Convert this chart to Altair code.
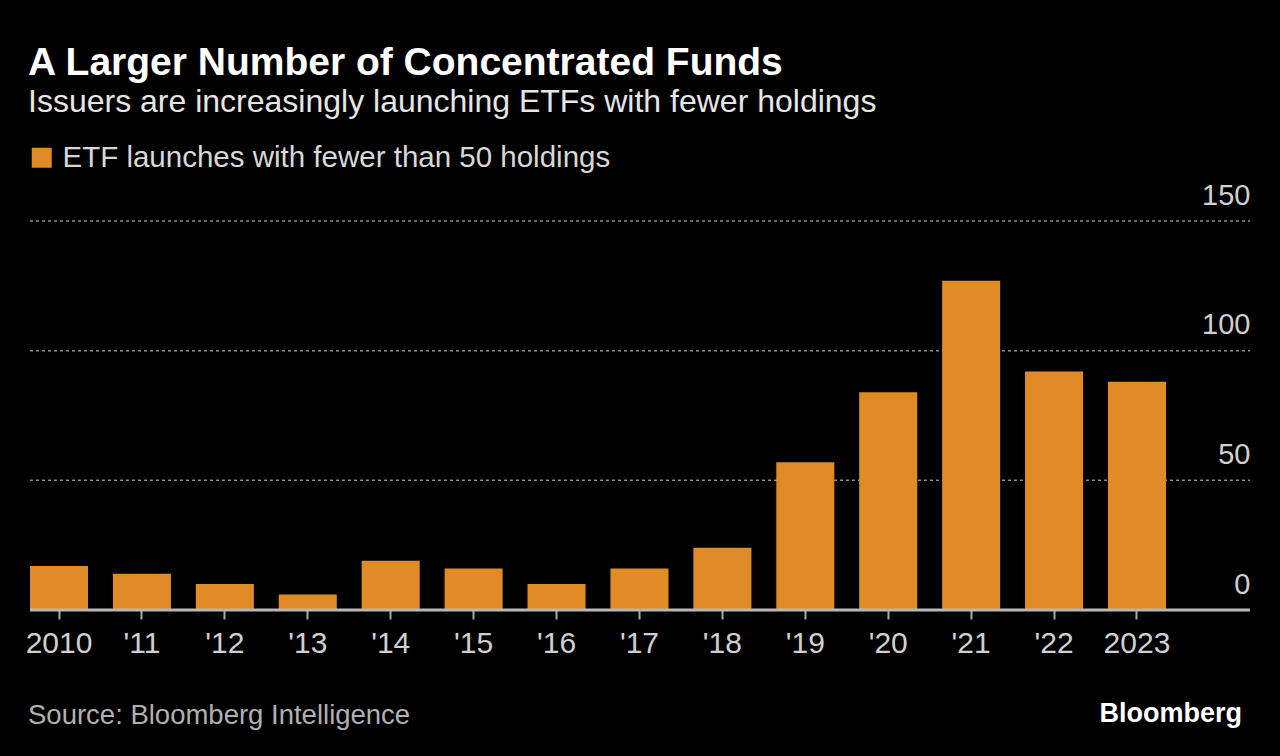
import altair as alt
import pandas as pd

years = ["2010", "'11", "'12", "'13", "'14", "'15", "'16", "'17", "'18", "'19", "'20", "'21", "'22", "2023"]
launches = [17, 14, 10, 6, 19, 16, 10, 16, 24, 57, 84, 127, 92, 88]
series_name = "ETF launches with fewer than 50 holdings"
y_ticks = [0, 50, 100, 150]
grid_ticks = [50, 100, 150]

title_text = "A Larger Number of Concentrated Funds"
subtitle_text = "Issuers are increasingly launching ETFs with fewer holdings"
source_text = "Source: Bloomberg Intelligence"
brand_text = "Bloomberg"

NARROW = "Liberation Sans Narrow, Liberation Sans, Arial Narrow, sans-serif"
BOLD = "Liberation Sans, Arial, sans-serif"
ORANGE = "#E08B26"

W, H = 1220, 389

df = pd.DataFrame({"year": years, "value": launches, "series": series_name})

bars = alt.Chart(df).mark_bar(color=ORANGE).encode(
    x=alt.X("year:N", sort=years, title=None,
            scale=alt.Scale(range=[0, 1136], paddingInner=0.3, paddingOuter=0),
            axis=alt.Axis(labelAngle=0, labelFont=NARROW, labelFontSize=30,
                          labelColor="#d0d0d0", domain=False, ticks=True,
                          tickColor="#aaaaaa", tickSize=9, tickWidth=2,
                          labelPadding=9)),
    y=alt.Y("value:Q", title=None,
            scale=alt.Scale(domain=[0, 150], nice=False),
            axis=alt.Axis(orient="right", values=y_ticks, labelFont=NARROW,
                          labelFontSize=29, labelColor="#d0d0d0",
                          labelAlign="right", labelBaseline="alphabetic",
                          labelOffset=-17, labelPadding=0, ticks=False,
                          domain=False, grid=False)),
    color=alt.Color("series:N", scale=alt.Scale(range=[ORANGE]), title=None,
                    legend=alt.Legend(orient="none", legendX=-3, legendY=-78,
                                      symbolType="square", symbolSize=400,
                                      symbolStrokeWidth=0, symbolOpacity=1,
                                      labelFont=NARROW, labelFontSize=29.5,
                                      labelColor="#d8d8d8", labelLimit=800,
                                      labelOffset=6, symbolOffset=0)),
)

grid_df = pd.DataFrame({"tick": grid_ticks})
grid = alt.Chart(grid_df).mark_rule(color="#8a8a8a", strokeWidth=1.5,
                                    strokeDash=[3, 3]).encode(
    y=alt.Y("tick:Q", scale=alt.Scale(domain=[0, 150], nice=False)),
    x=alt.value(0), x2=alt.value(W)
)

base_df = pd.DataFrame({"zero": [0]})
baseline = alt.Chart(base_df).mark_rule(color="#b8b8b8", strokeWidth=3).encode(
    y="zero:Q", x=alt.value(0), x2=alt.value(W)
)

def txt(text, x, y, font, size, color, weight="normal", align="left"):
    return alt.Chart(pd.DataFrame({"t": [text]})).mark_text(
        font=font, fontSize=size, color=color, fontWeight=weight,
        align=align, baseline="alphabetic"
    ).encode(text="t:N", x=alt.value(x), y=alt.value(y))

title = txt(title_text, -2, -146, BOLD, 39, "#ffffff", weight="bold")
subtitle = txt(subtitle_text, -2, -109, NARROW, 32, "#e6e6e6")
source = txt(source_text, -2, 503, NARROW, 27.5, "#b0b0b0")
brand = txt(brand_text, 1212, 501, BOLD, 27, "#ffffff", weight="bold", align="right")

chart = alt.layer(grid, bars, baseline, title, subtitle, source, brand).properties(
    width=W, height=H,
    background="#000000",
    padding={"left": 30, "top": 221, "right": 30, "bottom": 146},
    autosize=alt.AutoSizeParams(type="none"),
).configure_view(stroke=None)

chart.save("out.html", embed_options={"renderer": "svg", "actions": False})
